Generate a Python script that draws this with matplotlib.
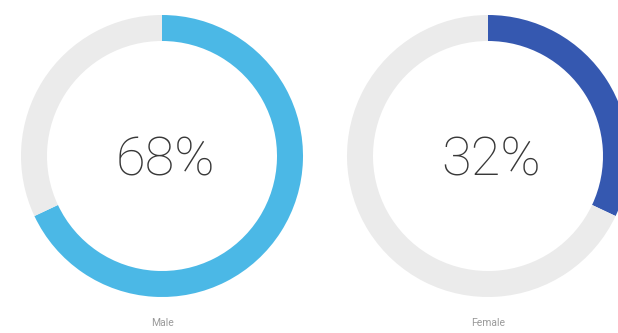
import matplotlib
matplotlib.use('agg')
import matplotlib.pyplot as pyplot

# Share of respondents by gender
labels = ['Male', 'Female']
shares = [68, 32]
ringColors = ['#4bb8e6', '#3558b0']
trackColor = '#ebebeb'

# Figure drawn in pixel units: 618 x 333
width, height = 618, 333
centersX = [162, 488]
centerY = height - 156
radius = 141
ringWidth = 26

fig = pyplot.figure(figsize=(width / 100.0, height / 100.0), dpi=100)
ax = fig.add_axes([0, 0, 1, 1])

for i in range(len(labels)):
    cx = centersX[i]
    ax.pie([shares[i], 100 - shares[i]],
           colors=[ringColors[i], trackColor],
           startangle=90, counterclock=False,
           radius=radius, center=(cx, centerY),
           wedgeprops=dict(width=ringWidth, linewidth=0))
    ax.text(cx + 3, centerY - 5, str(shares[i]) + '%', ha='center', va='center',
            fontsize=39, family=['Roboto', 'DejaVu Sans'], fontweight='light',
            color='#383838')
    ax.text(cx, height - 323, labels[i], ha='center', va='center',
            fontsize=7.5, family=['Roboto', 'DejaVu Sans'],
            color='#9a9a9a')

ax.set_xlim(0, width)
ax.set_ylim(0, height)
ax.set_aspect('equal')
ax.axis('off')

pyplot.savefig('out.png', dpi=100, facecolor='white')
pyplot.close()
